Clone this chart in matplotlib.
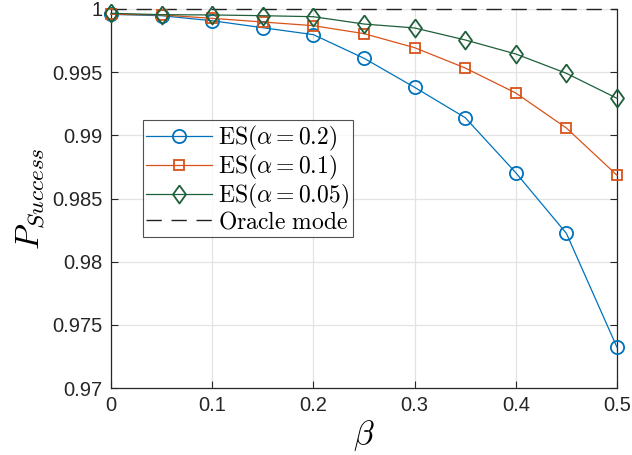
import matplotlib
matplotlib.use("Agg")
import matplotlib.pyplot as plt
import numpy as np

plt.rcParams['mathtext.fontset'] = 'cm'
plt.rcParams['font.family'] = ['Liberation Sans', 'DejaVu Sans']

beta = [0, 0.05, 0.1, 0.15, 0.2, 0.25, 0.3, 0.35, 0.4, 0.45, 0.5]
es_02 = [0.99958, 0.99947, 0.99907, 0.99852, 0.99797, 0.99610, 0.99380, 0.99140, 0.98704, 0.98224, 0.97322]
es_01 = [0.99958, 0.99953, 0.99926, 0.99897, 0.99868, 0.99805, 0.99694, 0.99533, 0.99335, 0.99058, 0.98684]
es_005 = [0.99966, 0.99955, 0.99953, 0.99947, 0.99939, 0.99881, 0.99850, 0.99755, 0.99644, 0.99491, 0.99293]
oracle = [1.0, 1.0]
oracle_x = [0, 0.5]

labels = [r'$\mathrm{ES}(\alpha = 0.2)$', r'$\mathrm{ES}(\alpha = 0.1)$',
          r'$\mathrm{ES}(\alpha = 0.05)$', r'$\mathrm{Oracle\ mode}$']

fig = plt.figure(figsize=(6.32, 4.55), dpi=100)
ax = fig.add_axes([111/632, 1-388/455, 506/632, 379/455])

diamond = [(0, 1), (0.72, 0), (0, -1), (-0.72, 0), (0, 1)]

ax.plot(beta, es_02, color='#0072BD', lw=0.9, marker='o', ms=9.5, mfc='none', mew=1.3, label=labels[0], clip_on=False, zorder=3)
ax.plot(beta, es_01, color='#D95319', lw=0.9, marker='s', ms=7.5, mfc='none', mew=1.3, label=labels[1], clip_on=False, zorder=3)
ax.plot(beta, es_005, color='#1F5F3A', lw=0.9, marker=diamond, ms=13, mfc='none', mew=1.3, label=labels[2], clip_on=False, zorder=3)
ax.plot(oracle_x, oracle, color='#222222', lw=1.0, ls=(0, (11, 7)), label=labels[3], clip_on=False, zorder=2)

ax.set_xlim(0, 0.5)
ax.set_ylim(0.97, 1.0)
ax.set_xticks([0, 0.1, 0.2, 0.3, 0.4, 0.5])
ax.set_xticklabels(['0', '0.1', '0.2', '0.3', '0.4', '0.5'])
ax.set_yticks([0.97, 0.975, 0.98, 0.985, 0.99, 0.995, 1.0])
ax.set_yticklabels(['0.97', '0.975', '0.98', '0.985', '0.99', '0.995', '1'])
ax.grid(True, color='#e3e3e3', lw=0.9)
ax.set_axisbelow(True)
ax.spines['top'].set_visible(False)
for s in ['left', 'bottom', 'right']:
    ax.spines[s].set_color('#262626')
    ax.spines[s].set_linewidth(0.9)
ax.tick_params(direction='in', length=5, width=0.8, colors='#262626', labelsize=14.5, pad=6, right=True, top=False)
ax.set_xlabel(r'$\beta$', fontsize=24, labelpad=2)
ax.set_ylabel(r'$P_{Success}$', fontsize=24, labelpad=4)

leg = ax.legend(loc='lower left', bbox_to_anchor=(0.0626, 0.399), borderaxespad=0,
                fontsize=17, frameon=True, fancybox=False, edgecolor='#262626',
                handlelength=2.8, labelspacing=0.0, borderpad=0.15, handletextpad=0.25)
leg.get_frame().set_linewidth(0.8)

fig.savefig('out.png', dpi=100)
